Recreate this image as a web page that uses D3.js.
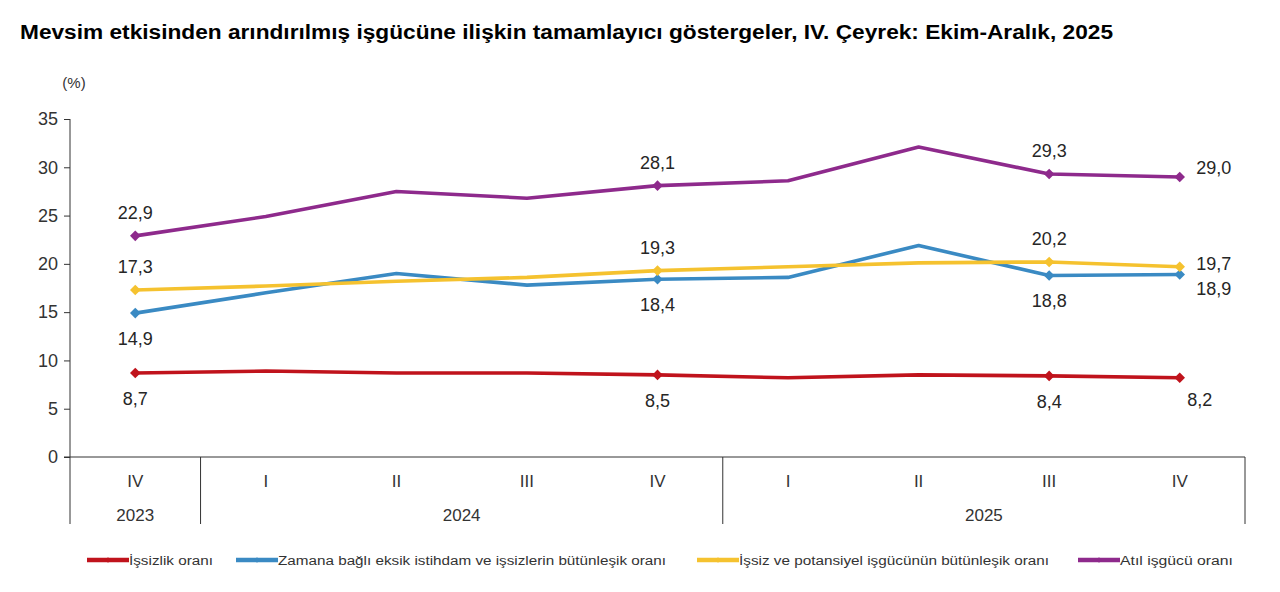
<!DOCTYPE html>
<html>
<head>
<meta charset="utf-8">
<script src="https://cdn.jsdelivr.net/npm/d3@7"></script>
<style>
  body { margin: 0; background: #fff; }
  svg { font-family: "Liberation Sans", Arial, sans-serif; }
</style>
</head>
<body>
<svg id="chart" width="1280" height="592"></svg>
<script>
// quarters on the x axis and the year each one belongs to
var quarters = ["IV", "I", "II", "III", "IV", "I", "II", "III", "IV"];
var quarterYears = ["2023", "2024", "2024", "2024", "2024", "2025", "2025", "2025", "2025"];

// series values (%)
var issizlik = [8.7, 8.9, 8.7, 8.7, 8.5, 8.2, 8.5, 8.4, 8.2];
var zamanaBagli = [14.9, 17.0, 19.0, 17.8, 18.4, 18.6, 21.9, 18.8, 18.9];
var potansiyel = [17.3, 17.7, 18.2, 18.6, 19.3, 19.7, 20.1, 20.2, 19.7];
var atil = [22.9, 24.9, 27.5, 26.8, 28.1, 28.6, 32.1, 29.3, 29.0];

var seriesNames = ["İşsizlik oranı", "Zamana bağlı eksik istihdam ve işsizlerin bütünleşik oranı",
    "İşsiz ve potansiyel işgücünün bütünleşik oranı", "Atıl işgücü oranı"];
var yTicks = [0, 5, 10, 15, 20, 25, 30, 35];
// points that carry a marker and a value label
var labelled = [0, 4, 7, 8];

var title = "Mevsim etkisinden arındırılmış işgücüne ilişkin tamamlayıcı göstergeler, IV. Çeyrek: Ekim-Aralık, 2025";

var svg = d3.select("#chart");

// plot box (window.top is read-only, so no plain "top" here)
var plotLeft = 70, plotRight = 1245, plotTop = 119, plotBottom = 457;

var x = d3.scaleBand()
    .domain(d3.range(quarters.length))
    .range([plotLeft, plotRight]);

var y = d3.scaleLinear()
    .domain([0, 35])
    .range([plotBottom, plotTop]);

function cx(i) { return x(i) + x.bandwidth() / 2; }

var fmt = function(v) { return d3.format(".1f")(v).replace(".", ","); };

// title
svg.append("text")
    .attr("x", 20)
    .attr("y", 39)
    .attr("font-size", "20px")
    .attr("font-weight", "bold")
    .attr("fill", "#000")
    .attr("textLength", 1093)
    .attr("lengthAdjust", "spacingAndGlyphs")
    .text(title);

svg.append("text")
    .attr("x", 74)
    .attr("y", 88)
    .attr("font-size", "15px")
    .attr("fill", "#333")
    .attr("text-anchor", "middle")
    .text("(%)");

// y axis
var yAxis = svg.append("g")
    .attr("transform", "translate(" + plotLeft + ",0)")
    .call(d3.axisLeft(y).tickValues(yTicks).tickSize(6).tickPadding(6));
yAxis.select(".domain").attr("stroke", "#333").attr("d", "M0," + y(35) + "V" + plotBottom);
yAxis.selectAll(".tick line").attr("stroke", "#333");
yAxis.selectAll(".tick text").attr("font-size", "18px").attr("fill", "#333")
    .attr("font-family", "Liberation Sans, Arial, sans-serif");

// x axis baseline
svg.append("line")
    .attr("x1", plotLeft - 6).attr("x2", plotRight)
    .attr("y1", plotBottom).attr("y2", plotBottom)
    .attr("stroke", "#333");

// quarter labels
svg.append("g").selectAll("text")
    .data(quarters)
    .enter().append("text")
    .attr("x", function(d, i) { return cx(i); })
    .attr("y", plotBottom + 30)
    .attr("text-anchor", "middle")
    .attr("font-size", "17px")
    .attr("fill", "#333")
    .text(function(d) { return d; });

// year groups
var yearGroups = d3.groups(d3.range(quarters.length), function(i) { return quarterYears[i]; });

var sepX = [plotLeft];
yearGroups.forEach(function(g) { sepX.push(x(g[1][g[1].length - 1]) + x.bandwidth()); });

svg.append("g").selectAll("line")
    .data(sepX)
    .enter().append("line")
    .attr("x1", function(d) { return d; }).attr("x2", function(d) { return d; })
    .attr("y1", plotBottom).attr("y2", plotBottom + 67)
    .attr("stroke", "#333");

svg.append("g").selectAll("text")
    .data(yearGroups)
    .enter().append("text")
    .attr("x", function(g) { return (x(g[1][0]) + x(g[1][g[1].length - 1]) + x.bandwidth()) / 2; })
    .attr("y", plotBottom + 64)
    .attr("text-anchor", "middle")
    .attr("font-size", "17px")
    .attr("fill", "#333")
    .text(function(g) { return g[0]; });

// series
var series = [
    { name: seriesNames[0], values: issizlik, color: "#C0131C", pos: "below", last: [20, 28] },
    { name: seriesNames[1], values: zamanaBagli, color: "#3A8AC3", pos: "below", last: [34, 21] },
    { name: seriesNames[2], values: potansiyel, color: "#F5C22F", pos: "above", last: [34, 3] },
    { name: seriesNames[3], values: atil, color: "#8E2A8C", pos: "above", last: [34, -3] }
];

var line = d3.line()
    .x(function(d, i) { return cx(i); })
    .y(function(d) { return y(d); });

var diamond = d3.symbol().type(d3.symbolSquare).size(56);

series.forEach(function(s) {
    var g = svg.append("g");

    g.append("path")
        .datum(s.values)
        .attr("fill", "none")
        .attr("stroke", s.color)
        .attr("stroke-width", 3.6)
        .attr("stroke-linejoin", "round")
        .attr("d", line);

    g.selectAll("path.marker")
        .data(labelled)
        .enter().append("path")
        .attr("class", "marker")
        .attr("d", diamond)
        .attr("fill", s.color)
        .attr("transform", function(i) { return "translate(" + cx(i) + "," + y(s.values[i]) + ") rotate(45)"; });

    g.selectAll("text")
        .data(labelled)
        .enter().append("text")
        .attr("x", function(i) { return i === quarters.length - 1 ? cx(i) + s.last[0] : cx(i); })
        .attr("y", function(i) {
            if (i === quarters.length - 1) return y(s.values[i]) + s.last[1];
            return s.pos === "above" ? y(s.values[i]) - 17 : y(s.values[i]) + 32;
        })
        .attr("text-anchor", "middle")
        .attr("font-size", "18px")
        .attr("fill", "#262626")
        .text(function(i) { return fmt(s.values[i]); });
});

// legend
var legendX = [87, 236, 697, 1078];
var legendW = [84, 388, 310, 113];
var legendY = 560;

var legend = svg.append("g").selectAll("g")
    .data(series)
    .enter().append("g")
    .attr("transform", function(d, i) { return "translate(" + legendX[i] + "," + legendY + ")"; });

legend.append("line")
    .attr("x1", 0).attr("x2", 42)
    .attr("stroke", function(d) { return d.color; })
    .attr("stroke-width", 4.5);

legend.append("path")
    .attr("d", d3.symbol().type(d3.symbolSquare).size(16))
    .attr("transform", "translate(21,0) rotate(45)")
    .attr("fill", function(d) { return d.color; });

legend.append("text")
    .attr("x", 42)
    .attr("y", 4.5)
    .attr("font-size", "12.5px")
    .attr("fill", "#333")
    .attr("textLength", function(d, i) { return legendW[i]; })
    .attr("lengthAdjust", "spacingAndGlyphs")
    .text(function(d) { return d.name; });
</script>
</body>
</html>
